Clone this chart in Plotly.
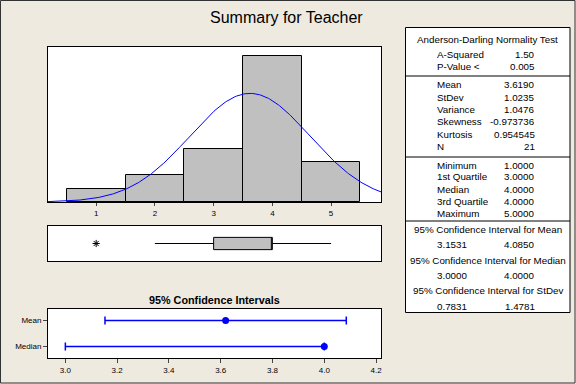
import numpy as np
import plotly.graph_objects as go

# ---------------- data ----------------
bin_centers = [1, 2, 3, 4, 5]
bin_counts = [1, 2, 4, 11, 3]

mean_val = 3.6190
stdev_val = 1.0235
n_obs = 21

ci_labels = ["Mean", "Median"]
ci_centers = [3.6190, 4.0000]
ci_low = [3.1531, 3.0000]
ci_high = [4.0850, 4.0000]

ad_rows = [("A-Squared", "1.50"), ("P-Value <", "0.005")]
moment_rows = [("Mean", "3.6190"), ("StDev", "1.0235"), ("Variance", "1.0476"),
               ("Skewness", "-0.973736"), ("Kurtosis", "0.954545"), ("N", "21")]
quant_rows = [("Minimum", "1.0000"), ("1st Quartile", "3.0000"), ("Median", "4.0000"),
              ("3rd Quartile", "4.0000"), ("Maximum", "5.0000")]
ci_rows = [("95% Confidence Interval for Mean", "3.1531", "4.0850"),
           ("95% Confidence Interval for Median", "3.0000", "4.0000"),
           ("95% Confidence Interval for StDev", "0.7831", "1.4781")]

hist_xtick = [1, 2, 3, 4, 5]
ci_xtick = [3.0, 3.2, 3.4, 3.6, 3.8, 4.0, 4.2]

# raw observations reconstructed from the histogram counts
raw_values = np.repeat(bin_centers, bin_counts)

W, H = 576, 384
def px(x):
    return x / W
def py(y):
    return 1 - y / H

FONT = "Liberation Sans"
BG = "#EEEAE0"
GREY = "#C0C0C0"

fig = go.Figure()

# histogram
fig.add_trace(go.Bar(x=bin_centers, y=bin_counts, width=1,
                     marker=dict(color=GREY, line=dict(color="black", width=1)),
                     xaxis="x", yaxis="y", showlegend=False, hoverinfo="skip"))
xr = [0.18, 5.85]
xc = np.linspace(xr[0], xr[1], 300)
yc = n_obs * 1.0 / (stdev_val * np.sqrt(2 * np.pi)) * np.exp(-0.5 * ((xc - mean_val) / stdev_val) ** 2)
fig.add_trace(go.Scatter(x=xc, y=yc, mode="lines", line=dict(color="#0000FF", width=1),
                         xaxis="x", yaxis="y", showlegend=False, hoverinfo="skip"))

# boxplot
fig.add_trace(go.Box(x=raw_values, y0=0, orientation="h", boxpoints="outliers",
                     quartilemethod="linear", width=1.05, whiskerwidth=0,
                     fillcolor=GREY, line=dict(color="black", width=1),
                     marker=dict(symbol="asterisk-open", size=6, color="black",
                                 line=dict(color="black", width=1)),
                     xaxis="x2", yaxis="y2", showlegend=False, hoverinfo="skip"))

# confidence intervals
ci_pos = [1, 0]
fig.add_trace(go.Scatter(x=ci_centers, y=ci_pos, mode="markers",
                         marker=dict(color="#0000FF", size=7),
                         error_x=dict(type="data", symmetric=False,
                                      array=[h - c for h, c in zip(ci_high, ci_centers)],
                                      arrayminus=[c - l for c, l in zip(ci_centers, ci_low)],
                                      color="#0000FF", thickness=1.5, width=4),
                         xaxis="x3", yaxis="y3", showlegend=False, hoverinfo="skip"))

axis_common = dict(showline=True, linecolor="black", linewidth=1, mirror=True,
                   showgrid=False, zeroline=False)
tickfont = dict(family=FONT, size=8, color="black")

xdom = [px(48), px(381)]
fig.update_layout(
    width=W, height=H, margin=dict(l=0, r=0, t=0, b=0),
    paper_bgcolor=BG, plot_bgcolor="white",
    bargap=0,
    xaxis=dict(domain=xdom, range=xr, tickvals=hist_xtick, ticks="outside", ticklen=3,
               tickfont=tickfont, anchor="y", **axis_common),
    yaxis=dict(domain=[py(202), py(47)], range=[0, 11.68], showticklabels=False,
               ticks="", anchor="x", **axis_common),
    xaxis2=dict(domain=xdom, range=xr, showticklabels=False, ticks="", anchor="y2",
                **axis_common),
    yaxis2=dict(domain=[py(261), py(226)], range=[-1.5, 1.5], showticklabels=False,
                ticks="", anchor="x2", **axis_common),
    xaxis3=dict(domain=xdom, range=[2.933, 4.219], tickvals=ci_xtick, tickformat=".1f",
                ticks="outside", ticklen=4, tickfont=tickfont, anchor="y3", **axis_common),
    yaxis3=dict(domain=[py(358), py(309)], range=[-0.45, 1.45], tickvals=ci_pos,
                ticktext=ci_labels, ticks="outside", ticklen=4, tickfont=tickfont,
                anchor="x3", **axis_common),
)

ann = []
shapes = []

def text(x, y, s, size=9.8, anchor="left", bold=False):
    ann.append(dict(x=px(x), y=py(y), xref="paper", yref="paper", text=("<b>%s</b>" % s) if bold else s,
                    showarrow=False, xanchor=anchor, yanchor="middle",
                    font=dict(family=FONT, size=size, color="black")))

text(286, 17, "Summary for Teacher", size=16, anchor="center")
text(214, 300, "95% Confidence Intervals", size=10.8, anchor="center", bold=True)

# stats table
tl, tr, tt, tb = 405.5, 570, 27.5, 312.5
shapes.append(dict(type="rect", xref="paper", yref="paper", x0=px(tl), x1=px(tr), y0=py(tb), y1=py(tt),
                   line=dict(color="black", width=1), fillcolor="white", layer="below"))
for yy in [76, 157, 221]:
    shapes.append(dict(type="line", xref="paper", yref="paper", x0=px(tl), x1=px(tr), y0=py(yy), y1=py(yy),
                       line=dict(color="black", width=1)))

lab_x, val_x, mid_x = 435, 537, 487.5
text(mid_x, 40, "Anderson-Darling Normality Test", anchor="center")
for (l, v), yy in zip(ad_rows, [54.3, 66.7]):
    text(lab_x, yy, l); text(val_x, yy, v, anchor="right")
for (l, v), yy in zip(moment_rows, [85, 97.3, 109.3, 121.7, 134.3, 146.7]):
    text(lab_x, yy, l); text(val_x, yy, v, anchor="right")
for (l, v), yy in zip(quant_rows, [165, 176.7, 189.3, 201.3, 213.3]):
    text(lab_x, yy, l); text(val_x, yy, v, anchor="right")
for (t, a, b), yy in zip(ci_rows, [229.3, 260, 290.7]):
    text(mid_x, yy, t, anchor="center")
    text(lab_x, yy + 15.3, a); text(val_x, yy + 15.3, b, anchor="right")

# outer frame
shapes.append(dict(type="rect", xref="paper", yref="paper", x0=0.5 / W, x1=1 - 1 / W, y0=1 / H, y1=1 - 0.5 / H,
                   line=dict(color="#333333", width=1)))

fig.update_layout(annotations=ann, shapes=shapes)
fig.write_html("out.html", config={"displayModeBar": False},
               post_script="document.body.style.margin='0';document.body.style.overflow='hidden';")
